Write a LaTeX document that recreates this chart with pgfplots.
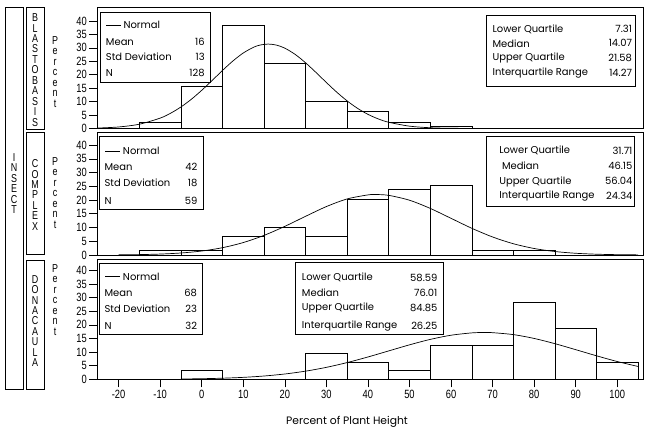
\documentclass[border=0pt]{standalone}
\usepackage{fontspec}
\setmainfont{Poppins}
\newfontfamily\condfont[FakeStretch=0.78]{Liberation Sans}
\usepackage{pgfplots}
\pgfplotsset{compat=1.18}
\newcommand{\tickfont}{\condfont\fontsize{12}{12}\selectfont}
\newcommand{\stackfont}{\condfont\fontsize{11.5}{10.5}\selectfont}
\newcommand{\boxfont}{\fontsize{10}{11}\selectfont}
\pgfplotsset{panel/.style={
  scale only axis, width=546bp, xmin=-25.2, xmax=106.2, ymin=0,
  axis line style={line width=0.7pt},
  ytick={0,5,...,40}, yticklabels={0,5,10,15,20,25,30,35,40},
  tick align=outside, ytick pos=left, major tick length=8bp,
  tick style={line width=0.6pt, black},
  yticklabel style={font=\tickfont, inner xsep=2bp},
  xtick=\empty
}}
\begin{document}
\begin{tikzpicture}
\useasboundingbox (0,0) rectangle (650bp,433bp);
% ---------- top: BLASTOBASIS
\begin{axis}[panel, at={(97bp,304.5bp)}, anchor=south west, height=121.5bp, ymax=45.2]
\addplot[ybar interval, draw=black, fill=white, line width=0.6pt] coordinates {
(-15,2.34) (-5,15.63) (5,38.28) (15,24.22) (25,10.16) (35,6.25) (45,2.34) (55,0.78) (65,0.78)};
\addplot[black, line width=0.7pt, smooth, no markers] coordinates {
(-25,0.171) (-20,0.565) (-15,1.596) (-10,3.864) (-7.5,5.67) (-5,8.006) (-2.5,10.87) (0,14.20) (2.5,17.85) (5,21.59) (7.5,25.11) (10,28.09) (12.5,30.24) (14,31.02) (16,31.41) (18,31.02) (20,29.89) (22.5,27.55) (25,24.43) (27.5,20.85) (30,17.11) (32.5,13.51) (35,10.26) (37.5,7.49) (40,5.265) (42.5,3.56) (45,2.318) (50,0.872) (55,0.281) (60,0.078) (70,0.003) (80,0) (105,0)};
\end{axis}
% ---------- middle: COMPLEX
\begin{axis}[panel, at={(97bp,178bp)}, anchor=south west, height=122.3bp, ymax=44.5]
\addplot[ybar interval, draw=black, fill=white, line width=0.6pt] coordinates {
(-15,1.69) (-5,1.69) (5,6.78) (15,10.17) (25,6.78) (35,20.34) (45,23.73) (55,25.42) (65,1.69) (75,1.69) (85,1.69)};
\addplot[black, line width=0.7pt, smooth, no markers] coordinates {
(-20,0.058) (-15,0.146) (-10,0.339) (-5,0.728) (0,1.446) (5,2.66) (10,4.53) (15,7.14) (20,10.42) (25,14.08) (30,17.62) (35,20.40) (40,21.86) (42,22.0) (45,21.70) (50,19.93) (55,16.95) (60,13.34) (65,9.72) (70,6.56) (75,4.10) (80,2.37) (85,1.27) (90,0.628) (95,0.288) (100,0.123) (105,0.048)};
\end{axis}
% ---------- bottom: DONACAULA
\begin{axis}[panel, at={(97bp,53.7bp)}, anchor=south west, height=120.3bp, ymax=44.2,
  xtick={-20,-10,...,100}, xtick pos=bottom,
  xticklabels={-20,-10,0,10,20,30,40,50,60,70,80,90,100},
  xticklabel style={font=\tickfont, inner ysep=3bp}]
\addplot[ybar interval, draw=black, fill=white, line width=0.6pt] coordinates {
(-5,3.125) (5,0) (15,0) (25,9.375) (35,6.25) (45,3.125) (55,12.5) (65,12.5) (75,28.125) (85,18.75) (95,6.25) (105,6.25)};
\addplot[black, line width=0.7pt, smooth, no markers] coordinates {
(-5,0.112) (0,0.217) (5,0.404) (10,0.715) (15,1.209) (20,1.949) (25,2.995) (30,4.393) (35,6.146) (40,8.20) (45,10.43) (50,12.66) (55,14.66) (60,16.19) (65,17.05) (68,17.2) (70,17.13) (75,16.42) (80,15.01) (85,13.09) (90,10.89) (95,8.64) (100,6.53) (105,4.72)};
\end{axis}
% ---------- annotations (pixel coordinates, y downwards)
\begin{scope}[x=1bp, y=-1bp, yshift=433bp, line width=0.6pt]
\draw (5,7.3) rectangle (23.3,389.3);
\draw (26,7.3) rectangle (44.3,129.3);
\draw (26,132.7) rectangle (44.3,254.3);
\draw (26,260) rectangle (44.3,389.3);
\node[align=center, font=\stackfont, inner sep=0] at (14.2,183.5) {I\\N\\S\\E\\C\\T};
\node[align=center, font=\stackfont, inner sep=0] at (35.2,70) {B\\L\\A\\S\\T\\O\\B\\A\\S\\I\\S};
\node[align=center, font=\stackfont, inner sep=0] at (35.2,195) {C\\O\\M\\P\\L\\E\\X};
\node[align=center, font=\stackfont, inner sep=0] at (35.2,321) {D\\O\\N\\A\\C\\A\\U\\L\\A};
\foreach \yy in {72,193,300}
  \node[align=center, font=\stackfont, inner sep=0] at (55,\yy) {P\\e\\r\\c\\e\\n\\t};
% top-left box
\begin{scope}[every node/.style={font=\boxfont, inner sep=0}]
\draw[fill=white] (100,12.3) rectangle (210.7,82.3);
\draw (106,25) -- (120.7,25);
\node[anchor=west] at (123.3,25) {Normal};
\node[anchor=west] at (105.7,41.7) {Mean};
\node[anchor=west] at (105.7,57) {Std Deviation};
\node[anchor=west] at (105.7,72.7) {N};
\node[anchor=east] at (205,41.7) {16};
\node[anchor=east] at (205,57) {13};
\node[anchor=east] at (205,72.7) {128};
% top-right box
\draw[fill=white] (486.7,15.7) rectangle (635,86.7);
\node[anchor=west] at (492.3,29.3) {Lower Quartile};
\node[anchor=west] at (492.3,43.3) {Median};
\node[anchor=west] at (492.3,57.7) {Upper Quartile};
\node[anchor=west] at (492.3,72.7) {Interquartile Range};
\node[anchor=east] at (632.3,29.3) {7.31};
\node[anchor=east] at (632.3,43.3) {14.07};
\node[anchor=east] at (632.3,57.7) {21.58};
\node[anchor=east] at (632.3,72.7) {14.27};
% middle-left box
\draw[fill=white] (99,136.7) rectangle (203.3,209);
\draw (105,151) -- (120,151);
\node[anchor=west] at (122.7,151) {Normal};
\node[anchor=west] at (104.3,167.3) {Mean};
\node[anchor=west] at (104.3,182.7) {Std Deviation};
\node[anchor=west] at (104.3,200.7) {N};
\node[anchor=east] at (197.7,167.3) {42};
\node[anchor=east] at (197.7,182.7) {18};
\node[anchor=east] at (197.7,200.7) {59};
% middle-right box
\draw[fill=white] (486.7,136.7) rectangle (634,206.7);
\node[anchor=west] at (499,150.7) {Lower Quartile};
\node[anchor=west] at (501.7,165.7) {Median};
\node[anchor=west] at (499,181.7) {Upper Quartile};
\node[anchor=west] at (499,196) {Interquartile Range};
\node[anchor=east] at (632.7,150.7) {31.71};
\node[anchor=east] at (632.7,165.7) {46.15};
\node[anchor=east] at (632.7,180.7) {56.04};
\node[anchor=east] at (632.7,196) {24.34};
% bottom-left box
\draw[fill=white] (99,263.3) rectangle (202.3,334);
\draw (105,276.7) -- (120,276.7);
\node[anchor=west] at (122.7,276.7) {Normal};
\node[anchor=west] at (104.3,293.3) {Mean};
\node[anchor=west] at (104.3,309) {Std Deviation};
\node[anchor=west] at (104.3,325.7) {N};
\node[anchor=east] at (197.3,293.3) {68};
\node[anchor=east] at (197.3,309) {23};
\node[anchor=east] at (197.3,325.7) {32};
% bottom-middle box
\draw[fill=white] (295,262.3) rectangle (443.3,334);
\node[anchor=west] at (301.7,277.7) {Lower Quartile};
\node[anchor=west] at (301.7,292.7) {Median};
\node[anchor=west] at (301.7,308.3) {Upper Quartile};
\node[anchor=west] at (301.7,325.7) {Interquartile Range};
\node[anchor=east] at (437.7,277.7) {58.59};
\node[anchor=east] at (437.7,292.7) {76.01};
\node[anchor=east] at (437.7,308.3) {84.85};
\node[anchor=east] at (437.7,325.7) {26.25};
% x label
\node[font=\fontsize{10.8}{12}\selectfont] at (347,421.7) {Percent of Plant Height};
\end{scope}
\end{scope}
\end{tikzpicture}
\end{document}
